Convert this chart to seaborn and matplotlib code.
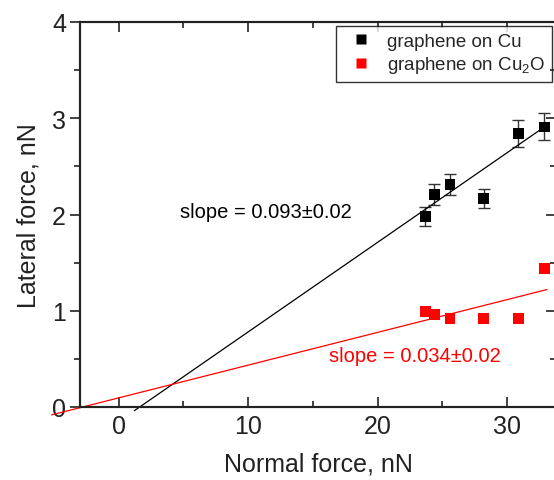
import matplotlib
matplotlib.use("Agg")
import matplotlib.pyplot as plt
import seaborn as sns
import numpy as np
import pandas as pd
from matplotlib.ticker import MultipleLocator

# Data
cu_x = [23.7, 24.4, 25.6, 28.2, 30.9, 32.9]
cu_y = [1.98, 2.21, 2.31, 2.17, 2.84, 2.91]
cu_err = [0.10, 0.11, 0.11, 0.10, 0.14, 0.14]
cu2o_x = [23.7, 24.4, 25.6, 28.2, 30.9, 32.9]
cu2o_y = [0.99, 0.96, 0.92, 0.92, 0.92, 1.44]

fit_cu = {"slope": 0.093, "intercept": -0.15, "x0": 1.2, "x1": 32.9}
fit_cu2o = {"slope": 0.034, "intercept": 0.095, "x0": -5.2, "x1": 33.1}

labels = ["graphene on Cu", "graphene on Cu$_2$O"]
slope_texts = ["slope = 0.093\u00b10.02", "slope = 0.034\u00b10.02"]

sns.set_theme(style="white")
plt.rcParams['font.family'] = ['Liberation Sans', 'DejaVu Sans']
plt.rcParams['mathtext.fontset'] = 'custom'
plt.rcParams['mathtext.rm'] = 'Liberation Sans'

fig = plt.figure(figsize=(5.54, 4.81), dpi=100)
W, H = 554, 481
ax = fig.add_axes([80 / W, (H - 408) / H, (556 - 80) / W, (408 - 23) / H])

df = pd.DataFrame({
    "x": cu_x + cu2o_x,
    "y": cu_y + cu2o_y,
    "series": [labels[0]] * len(cu_x) + [labels[1]] * len(cu2o_x),
})

ax.errorbar(cu_x, cu_y, yerr=cu_err, fmt="none", ecolor="#333333",
            elinewidth=1.0, capsize=4, capthick=1.0, zorder=2)

sns.scatterplot(data=df, x="x", y="y", hue="series",
                palette={labels[0]: "black", labels[1]: "#ff0000"},
                marker="s", s=60, edgecolor="none", ax=ax, zorder=3)

for fit, col in [(fit_cu, "black"), (fit_cu2o, "#ff0000")]:
    xs = np.array([fit["x0"], fit["x1"]])
    ys = fit["slope"] * xs + fit["intercept"]
    ax.plot(xs, ys, color=col, lw=0.9, clip_on=False, zorder=2)

ax.set_xlim(-3, 33.8)
ax.set_ylim(0, 4)
ax.xaxis.set_major_locator(MultipleLocator(10))
ax.xaxis.set_minor_locator(MultipleLocator(5))
ax.yaxis.set_major_locator(MultipleLocator(1))
ax.yaxis.set_minor_locator(MultipleLocator(0.5))

ax.tick_params(axis="x", which="both", direction="in", top=True, bottom=True,
               labelsize=18, pad=5, colors="#222222", labelcolor="#222222")
ax.tick_params(axis="x", which="major", length=7, width=1.2)
ax.tick_params(axis="x", which="minor", length=4, width=1.2)
ax.tick_params(axis="y", which="both", direction="out", left=True, right=False,
               labelsize=18, pad=3, colors="#222222", labelcolor="#222222")
ax.tick_params(axis="y", which="major", length=7, width=1.2)
ax.tick_params(axis="y", which="minor", length=4, width=1.2)
# right-side inward ticks via twin axis
axr = ax.twinx()
axr.set_ylim(0, 4)
axr.yaxis.set_major_locator(MultipleLocator(1))
axr.yaxis.set_minor_locator(MultipleLocator(0.5))
axr.tick_params(axis="y", which="both", direction="in", labelright=False,
                width=1.2, colors="#222222")
axr.tick_params(axis="y", which="major", length=7)
axr.tick_params(axis="y", which="minor", length=4)

for a in (ax, axr):
    for sp in a.spines.values():
        sp.set_color("#222222")
        sp.set_linewidth(1.5)
axr.grid(False)
ax.grid(False)

ax.set_xlabel("Normal force, nN", fontsize=18, labelpad=10, color="#222222")
ax.set_ylabel("Lateral force, nN", fontsize=18, labelpad=8, color="#222222")

ax.text(11.4, 2.03, slope_texts[0], fontsize=14.5, color="black", ha="center", va="center")
ax.text(22.9, 0.53, slope_texts[1], fontsize=14.5, color="#ff0000", ha="center", va="center")

leg = ax.legend(loc="upper right", bbox_to_anchor=(552 / W, (H - 27) / H),
                bbox_transform=fig.transFigure, fontsize=13.5, frameon=True,
                fancybox=False, edgecolor="black", borderpad=0.35,
                handletextpad=0.4, labelspacing=0.25, markerscale=0.85,
                borderaxespad=0.0)
leg.get_frame().set_linewidth(1.0)

fig.savefig("out.png", dpi=100)
